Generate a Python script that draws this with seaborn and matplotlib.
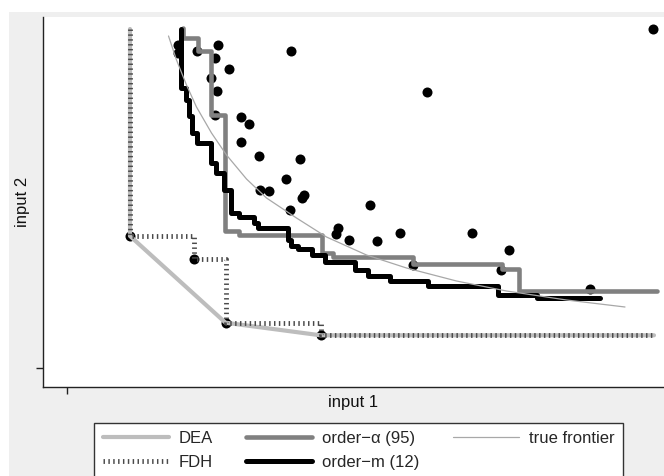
import matplotlib
matplotlib.use('Agg')
import matplotlib.pyplot as plt
from matplotlib.patches import Rectangle
import seaborn as sns

# observed units (input 1, input 2)
pts_x = [5.862, 2.241, 3.600, 1.516, 1.482, 1.626, 1.305, 1.440, 1.508, 1.482,
         1.749, 1.825, 1.749, 1.923, 2.334, 2.194, 1.935, 2.029, 2.376, 2.351,
         2.232, 3.033, 2.711, 2.694, 2.829, 3.109, 3.338, 4.058, 4.422, 3.465,
         4.345, 5.231, 1.115, 1.118, 0.635, 1.270, 1.590, 2.541]
pts_y = [3.387, 3.173, 2.763, 3.230, 3.097, 2.987, 3.173, 2.903, 2.773, 2.530,
         2.513, 2.437, 2.263, 2.123, 2.093, 1.887, 1.780, 1.770, 1.730, 1.697,
         1.583, 1.630, 1.397, 1.337, 1.283, 1.267, 1.353, 1.353, 1.180, 1.027,
         0.980, 0.787, 3.230, 3.147, 1.320, 1.090, 0.453, 0.327]

# DEA frontier
dea_x = [0.635, 0.635, 1.590, 2.541, 5.875]
dea_y = [3.390, 1.320, 0.453, 0.327, 0.327]

# FDH frontier (steps)
fdh_x = [0.635, 0.635, 1.270, 1.590, 2.541, 5.875]
fdh_y = [3.390, 1.320, 1.090, 0.453, 0.327, 0.327]

# order-alpha (95) frontier (steps)
alpha_x = [1.160, 1.160, 1.318, 1.445, 1.585, 1.725, 2.552, 2.668, 3.468,
           4.352, 4.525, 5.902]
alpha_y = [3.400, 3.305, 3.173, 2.530, 1.373, 1.330, 1.153, 1.107, 1.040,
           0.987, 0.770, 0.770]

# order-m (12) frontier (steps)
m_x = [1.145, 1.145, 1.195, 1.220, 1.255, 1.305, 1.440, 1.495, 1.570, 1.640,
       1.725, 1.875, 1.915, 2.215, 2.245, 2.315, 2.452, 2.585, 2.885, 3.018,
       3.235, 3.618, 4.318, 4.702, 5.335]
m_y = [3.390, 2.800, 2.680, 2.520, 2.350, 2.250, 2.050, 1.950, 1.780, 1.550,
       1.510, 1.450, 1.400, 1.280, 1.220, 1.187, 1.130, 1.063, 0.980, 0.920,
       0.870, 0.820, 0.730, 0.697, 0.697]

# true frontier
true_x = [1.02, 1.10, 1.20, 1.30, 1.45, 1.60, 1.80, 2.00, 2.30, 2.60, 3.00,
          3.40, 3.90, 4.40, 5.00, 5.585]
true_y = [3.32, 3.08, 2.83, 2.61, 2.35, 2.13, 1.89, 1.70, 1.50, 1.31, 1.13,
          1.00, 0.87, 0.77, 0.68, 0.61]

sns.set_style('white')
plt.rcParams['font.family'] = ['Liberation Sans', 'DejaVu Sans']
plt.rcParams['font.size'] = 12

W, H = 664, 476
fig = plt.figure(figsize=(W / 100, H / 100), dpi=100)
fig.patch.set_facecolor('white')
fig.add_artist(Rectangle((9 / W, 0), 1, 1 - 12 / H, transform=fig.transFigure,
                         facecolor='#efefef', edgecolor='none', zorder=-5))

ax = fig.add_axes([43 / W, (H - 386.7) / H, (W - 43) / W, (386.7 - 17) / H])
ax.set_facecolor('white')

sns.scatterplot(x=pts_x, y=pts_y, ax=ax, color='black', s=52, linewidth=0, zorder=2)

sns.lineplot(x=dea_x, y=dea_y, ax=ax, estimator=None, sort=False,
             color='#bdbdbd', linewidth=3.0, label='DEA', zorder=3)
sns.lineplot(x=fdh_x, y=fdh_y, ax=ax, estimator=None, sort=False,
             drawstyle='steps-post', color='#4a4a4a', linewidth=3.5,
             linestyle=(0, (0.3, 0.7)), label='FDH', zorder=4)
sns.lineplot(x=alpha_x, y=alpha_y, ax=ax, estimator=None, sort=False,
             drawstyle='steps-post', color='#808080', linewidth=3.3,
             label='order\u2212\u03b1 (95)', zorder=5)
sns.lineplot(x=m_x, y=m_y, ax=ax, estimator=None, sort=False,
             drawstyle='steps-post', color='black', linewidth=3.6,
             label='order\u2212m (12)', zorder=6)
sns.lineplot(x=true_x, y=true_y, ax=ax, estimator=None, sort=False,
             color='#a8a8a8', linewidth=0.9, label='true frontier', zorder=7)

handles, labels = ax.get_legend_handles_labels()
if ax.get_legend() is not None:
    ax.get_legend().remove()

ax.set_xlim(-0.235, 5.975)
ax.set_ylim(-0.187, 3.51)
ax.set_xticks([0])
ax.set_yticks([0])
ax.set_xticklabels([''])
ax.set_yticklabels([''])
ax.tick_params(direction='out', length=4.7, width=1, color='#222222',
               bottom=True, left=True)
for side in ['top', 'right']:
    ax.spines[side].set_visible(False)
for side in ['left', 'bottom']:
    ax.spines[side].set_color('#222222')
    ax.spines[side].set_linewidth(1.0)

ax.set_xlabel('input 1', fontsize=12, labelpad=-2, color='#111111')
ax.set_ylabel('input 2', fontsize=12, labelpad=1, color='#111111')

leg = fig.legend(handles, labels, ncol=3, loc='upper left',
                 bbox_to_anchor=(94.4 / W, 1 - 422.7 / H), borderaxespad=0,
                 fontsize=12, frameon=True, fancybox=False, borderpad=0.5,
                 handlelength=3.96, handletextpad=0.6, columnspacing=2.0,
                 labelspacing=0.52)
leg.get_frame().set_edgecolor('#333333')
leg.get_frame().set_linewidth(1.0)
leg.get_frame().set_facecolor('white')
leg.get_frame().set_alpha(1)

fig.savefig('out.png', dpi=100)
